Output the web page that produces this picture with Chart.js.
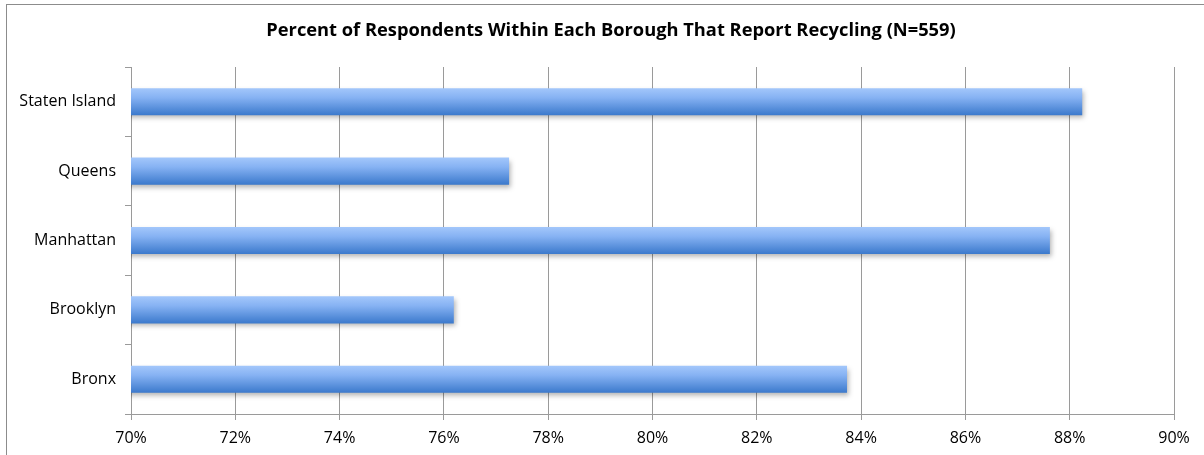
<!DOCTYPE html>
<html>
  <head>
    <title>Borough Recycling</title>
    <script src="https://cdn.jsdelivr.net/npm/chart.js@4.4.1/dist/chart.umd.min.js"></script>
    <style>
      body { margin: 0; overflow: hidden; background: #fff; }
      #frame { position: absolute; left: 6px; top: 4px; width: 1400px; height: 700px; border: 1px solid #8c8c8c; }
      #wrap { position: absolute; left: 0; top: 0; width: 1204px; height: 455px; }
    </style>
  </head>
  <body>
    <div id="frame"></div>
    <div id="wrap"><canvas id="myChart" width="1204" height="455"></canvas></div>

    <script>
      const boroughs = ["Staten Island", "Queens", "Manhattan", "Brooklyn", "Bronx"]
      const recyclingPct = [88.24, 77.25, 87.62, 76.19, 83.73]
      const xMin = 70
      const xMax = 90
      const xStep = 2
      const chartTitle = "Percent of Respondents Within Each Borough That Report Recycling (N=559)"

      // vertical blue gradient for each bar, built from the bar's own band on the y scale
      function barFill(ctx) {
        const chart = ctx.chart
        const yScale = chart.scales.y
        if (!yScale || ctx.dataIndex === undefined) return "#6fa0ec"
        const band = (yScale.bottom - yScale.top) / boroughs.length
        const half = band * 0.39 / 2
        const mid = yScale.getPixelForValue(ctx.dataIndex)
        if (!isFinite(mid) || !isFinite(half) || half <= 0) return "#6fa0ec"
        const g = chart.ctx.createLinearGradient(0, mid - half, 0, mid + half)
        g.addColorStop(0, "#a3c7fb")
        g.addColorStop(0.35, "#86b2f3")
        g.addColorStop(1, "#3b79cc")
        return g
      }

      // soft drop shadow under the bars
      const barShadow = {
        id: "barShadow",
        beforeDatasetsDraw(chart) {
          const c = chart.ctx
          c.save()
          c.shadowColor = "rgba(0,0,0,0.3)"
          c.shadowBlur = 5
          c.shadowOffsetX = 2
          c.shadowOffsetY = 3
        },
        afterDatasetsDraw(chart) {
          chart.ctx.restore()
        }
      }

      // title centred on the framed box rather than the canvas
      const frameTitle = {
        id: "frameTitle",
        afterDraw(chart) {
          const c = chart.ctx
          c.save()
          c.font = "bold 18.3px 'Open Sans'"
          c.fillStyle = "#000"
          c.textAlign = "center"
          c.textBaseline = "middle"
          c.fillText(chartTitle, 611, 31)
          c.restore()
        }
      }

      new Chart("myChart", {
        type: "bar",
        data: {
          labels: boroughs,
          datasets: [{
            data: recyclingPct,
            backgroundColor: barFill,
            borderWidth: 0,
            barPercentage: 0.39,
            categoryPercentage: 1
          }]
        },
        plugins: [barShadow, frameTitle],
        options: {
          indexAxis: "y",
          responsive: false,
          animation: false,
          layout: { padding: { left: 0, right: 30, top: 67, bottom: 0 } },
          plugins: {
            legend: { display: false },
            tooltip: { enabled: false },
            title: { display: false }
          },
          scales: {
            x: {
              min: xMin,
              max: xMax,
              afterFit(scale) { scale.height = 41 },
              ticks: {
                stepSize: xStep,
                color: "#000",
                padding: 9,
                font: { family: "Open Sans", size: 16 },
                callback: (v) => v + "%"
              },
              grid: { color: "#9a9a9a", tickLength: 6, drawTicks: true },
              border: { color: "#9a9a9a" }
            },
            y: {
              afterFit(scale) { scale.width = 131 },
              ticks: {
                color: "#000",
                padding: 9,
                font: { family: "Open Sans", size: 16 }
              },
              grid: { offset: true, drawOnChartArea: false, color: "#9a9a9a", tickLength: 6 },
              border: { color: "#9a9a9a" }
            }
          }
        }
      })
    </script>
  </body>
</html>
